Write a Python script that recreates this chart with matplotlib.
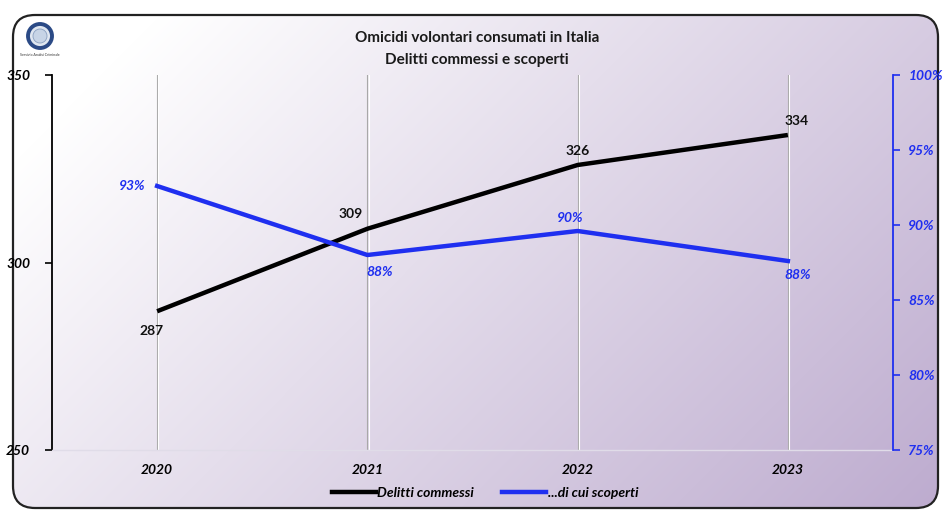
import matplotlib
matplotlib.use("Agg")
import matplotlib.pyplot as plt
import numpy as np
from matplotlib.patches import FancyBboxPatch, Circle
from matplotlib.lines import Line2D
from matplotlib.ticker import FuncFormatter

years = ["2020", "2021", "2022", "2023"]
commessi = [287, 309, 326, 334]
scoperti = [0.926, 0.880, 0.896, 0.876]
scoperti_labels = ["93%", "88%", "90%", "88%"]
left_ticks = [250, 300, 350]
right_ticks = [0.75, 0.80, 0.85, 0.90, 0.95, 1.00]

FONT = ["Lato", "DejaVu Sans"]
plt.rcParams['font.family'] = FONT
BLUE = "#1f2ff0"

W, H = 943, 512
fig = plt.figure(figsize=(W / 100, H / 100), dpi=100)

# background gradient with rounded border
bg = fig.add_axes([0, 0, 1, 1])
bg.set_xlim(0, W)
bg.set_ylim(H, 0)
bg.axis("off")
yy, xx = np.mgrid[0:H, 0:W]
t = (xx / W * 0.65 + yy / H * 0.35)
t = np.clip((t - 0.12) / 0.88, 0, 1)
c0 = np.array([1.0, 1.0, 1.0])
c1 = np.array([0.74, 0.67, 0.81])
img = c0[None, None, :] * (1 - t[..., None]) + c1[None, None, :] * t[..., None]
patch = FancyBboxPatch((13, 15), 925, 493, boxstyle="round,pad=0,rounding_size=22",
                       facecolor="none", edgecolor="#222222", linewidth=1.6, zorder=3)
im = bg.imshow(img, extent=(0, W, H, 0), zorder=1, aspect="auto")
bg.add_patch(patch)
im.set_clip_path(patch)

# logo
bg.add_patch(Circle((40, 36), 12, facecolor="#dfe6f0", edgecolor="#2b4a86", linewidth=2.8, zorder=4))
bg.add_patch(Circle((40, 36), 7, facecolor="#c7d4e6", edgecolor="#8aa0c0", linewidth=0.6, zorder=5))
bg.text(40, 55, "Servizio Analisi Criminale", fontsize=2.6, ha="center", va="center", color="#333333", zorder=5)

# title
bg.text(477, 38, "Omicidi volontari consumati in Italia", fontsize=11, fontweight="bold",
        ha="center", va="center", color="#1a1a1a", zorder=5)
bg.text(477, 60, "Delitti commessi e scoperti", fontsize=11, fontweight="bold",
        ha="center", va="center", color="#1a1a1a", zorder=5)

ax = fig.add_axes([52 / W, 1 - 450 / H, (893 - 52) / W, (450 - 75) / H])
ax.set_facecolor("none")
x = np.arange(len(years)) + 0.5
ax.set_xlim(0, len(years))
ax.set_ylim(250, 350)

for xi in x:
    ax.axvline(xi, color="#a8a8a8", linewidth=0.8, zorder=1)
    ax.axvline(xi + 0.006, color="white", linewidth=0.8, zorder=1)

ax.plot(x, commessi, color="black", linewidth=3.2, zorder=4, solid_capstyle="butt")

ax.set_yticks(left_ticks)
ax.set_yticklabels([str(v) for v in left_ticks])
ax.set_xticks(x)
ax.set_xticklabels(years)
for lab in ax.get_xticklabels():
    lab.set_fontweight("bold"); lab.set_fontstyle("italic"); lab.set_fontsize(10)
for lab in ax.get_yticklabels():
    lab.set_fontweight("bold"); lab.set_fontstyle("italic"); lab.set_fontsize(10)
    lab.set_horizontalalignment("left")
ax.tick_params(axis="x", length=0, pad=10)
ax.tick_params(axis="y", direction="out", length=5, width=1.2, pad=28, colors="black")
ax.spines["top"].set_visible(False)
ax.spines["right"].set_visible(False)
ax.spines["left"].set_linewidth(1.3)
ax.spines["bottom"].set_color("#e0dce8")
ax.spines["bottom"].set_linewidth(1.0)

ax2 = ax.twinx()
ax2.set_ylim(0.75, 1.00)
ax2.plot(x, scoperti, color=BLUE, linewidth=3.2, zorder=4)
ax2.set_yticks(right_ticks)
ax2.yaxis.set_major_formatter(FuncFormatter(lambda v, p: f"{v*100:.0f}%"))
for lab in ax2.get_yticklabels():
    lab.set_fontweight("bold"); lab.set_fontstyle("italic"); lab.set_fontsize(10)
    lab.set_color(BLUE)
ax2.tick_params(axis="y", direction="out", length=5, width=1.2, pad=6, colors=BLUE)
ax2.spines["right"].set_color(BLUE)
ax2.spines["right"].set_linewidth(1.3)
for s in ["top", "left", "bottom"]:
    ax2.spines[s].set_visible(False)

# data labels
offs_c = [(-4, -10, "center", "top"), (-12, 6, "center", "bottom"), (0, 6, "center", "bottom"), (6, 6, "center", "bottom")]
for xi, v, (dx, dy, ha, va) in zip(x, commessi, offs_c):
    ax.annotate(str(v), (xi, v), xytext=(dx, dy), textcoords="offset points",
                ha=ha, va=va, fontsize=10, fontweight="bold", color="#111111", zorder=6)
offs_s = [(-8, 0, "right", "center"), (9, -8, "center", "top"), (-5, 5, "center", "bottom"), (7, -6, "center", "top")]
for xi, v, lab, (dx, dy, ha, va) in zip(x, scoperti, scoperti_labels, offs_s):
    ax2.annotate(lab, (xi, v), xytext=(dx, dy), textcoords="offset points",
                 ha=ha, va=va, fontsize=10, fontweight="bold", fontstyle="italic", color=BLUE, zorder=6)

handles = [Line2D([], [], color="black", linewidth=3.2), Line2D([], [], color=BLUE, linewidth=3.2)]
leg = fig.legend(handles, ["Delitti commessi", "...di cui scoperti"], loc="center",
                 bbox_to_anchor=(485 / W, 1 - 493 / H), ncol=2, frameon=False,
                 handlelength=3.2, handletextpad=0.1, columnspacing=2.0,
                 prop={"weight": "bold", "style": "italic", "size": 10})

fig.savefig("out.png", dpi=100)
